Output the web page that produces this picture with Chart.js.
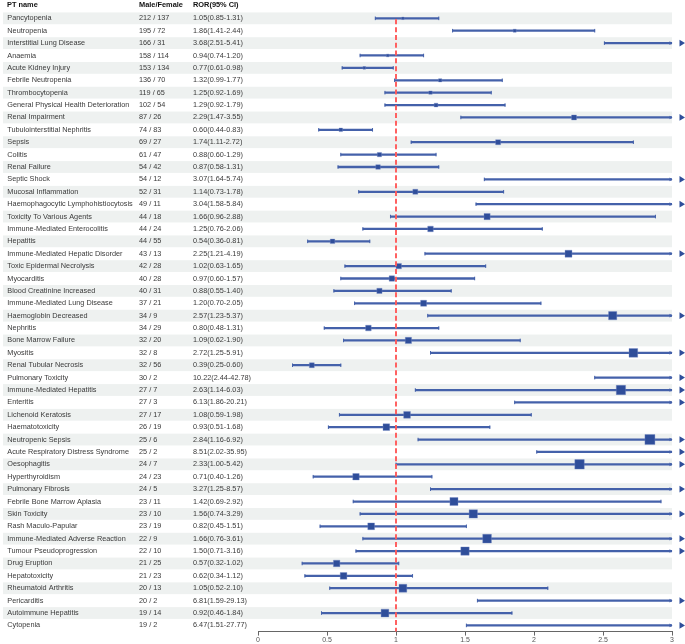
<!DOCTYPE html>
<html>
<head>
<meta charset="utf-8">
<script src="https://cdn.jsdelivr.net/npm/chart.js@4"></script>
<style>
  html, body { margin: 0; padding: 0; background: #fff; }
  #wrap { width: 685px; height: 644px; position: relative; }
</style>
</head>
<body>
<div id="wrap"><canvas id="forestChart"></canvas></div>
<script>
// adverse event rows, top to bottom
const ptNames = [
    "Pancytopenia", "Neutropenia", "Interstitial Lung Disease", "Anaemia", "Acute Kidney Injury",
    "Febrile Neutropenia", "Thrombocytopenia", "General Physical Health Deterioration", "Renal Impairment",
    "Tubulointerstitial Nephritis", "Sepsis", "Colitis", "Renal Failure", "Septic Shock",
    "Mucosal Inflammation", "Haemophagocytic Lymphohistiocytosis", "Toxicity To Various Agents",
    "Immune-Mediated Enterocolitis", "Hepatitis", "Immune-Mediated Hepatic Disorder",
    "Toxic Epidermal Necrolysis", "Myocarditis", "Blood Creatinine Increased", "Immune-Mediated Lung Disease",
    "Haemoglobin Decreased", "Nephritis", "Bone Marrow Failure", "Myositis", "Renal Tubular Necrosis",
    "Pulmonary Toxicity", "Immune-Mediated Hepatitis", "Enteritis", "Lichenoid Keratosis", "Haematotoxicity",
    "Neutropenic Sepsis", "Acute Respiratory Distress Syndrome", "Oesophagitis", "Hyperthyroidism",
    "Pulmonary Fibrosis", "Febrile Bone Marrow Aplasia", "Skin Toxicity", "Rash Maculo-Papular",
    "Immune-Mediated Adverse Reaction", "Tumour Pseudoprogression", "Drug Eruption", "Hepatotoxicity",
    "Rheumatoid Arthritis", "Pericarditis", "Autoimmune Hepatitis", "Cytopenia"
];
const maleCounts = [212, 195, 166, 158, 153, 136, 119, 102, 87, 74, 69, 61, 54, 54, 52, 49, 44, 44, 44, 43,
    42, 40, 40, 37, 34, 34, 32, 32, 32, 30, 27, 27, 27, 26, 25, 25, 24, 24, 24, 23, 23, 23, 22, 22, 21, 21, 20, 20, 19, 19];
const femaleCounts = [137, 72, 31, 114, 134, 70, 65, 54, 26, 83, 27, 47, 42, 12, 31, 11, 18, 24, 55, 13,
    28, 28, 31, 21, 9, 29, 20, 8, 56, 2, 7, 3, 17, 19, 6, 2, 7, 23, 5, 11, 10, 19, 9, 10, 25, 23, 13, 2, 14, 2];
const ror = [1.05, 1.86, 3.68, 0.94, 0.77, 1.32, 1.25, 1.29, 2.29, 0.60, 1.74, 0.88, 0.87, 3.07, 1.14, 3.04,
    1.66, 1.25, 0.54, 2.25, 1.02, 0.97, 0.88, 1.20, 2.57, 0.80, 1.09, 2.72, 0.39, 10.22, 2.63, 6.13, 1.08, 0.93,
    2.84, 8.51, 2.33, 0.71, 3.27, 1.42, 1.56, 0.82, 1.66, 1.50, 0.57, 0.62, 1.05, 6.81, 0.92, 6.47];
const ciLow = [0.85, 1.41, 2.51, 0.74, 0.61, 0.99, 0.92, 0.92, 1.47, 0.44, 1.11, 0.60, 0.58, 1.64, 0.73, 1.58,
    0.96, 0.76, 0.36, 1.21, 0.63, 0.60, 0.55, 0.70, 1.23, 0.48, 0.62, 1.25, 0.25, 2.44, 1.14, 1.86, 0.59, 0.51,
    1.16, 2.02, 1.00, 0.40, 1.25, 0.69, 0.74, 0.45, 0.76, 0.71, 0.32, 0.34, 0.52, 1.59, 0.46, 1.51];
const ciHigh = [1.31, 2.44, 5.41, 1.20, 0.98, 1.77, 1.69, 1.79, 3.55, 0.83, 2.72, 1.29, 1.31, 5.74, 1.78, 5.84,
    2.88, 2.06, 0.81, 4.19, 1.65, 1.57, 1.40, 2.05, 5.37, 1.31, 1.90, 5.91, 0.60, 42.78, 6.03, 20.21, 1.98, 1.68,
    6.92, 35.95, 5.42, 1.26, 8.57, 2.92, 3.29, 1.51, 3.61, 3.16, 1.02, 1.12, 2.10, 29.13, 1.84, 27.77];
const xTicks = [0, 0.5, 1, 1.5, 2, 2.5, 3];

const X_MAX = 3;
const lineBlue = "#4461aa";
const boxBlue = "#2f4e9a";
const fmt = v => v.toFixed(2);
const FONT = "'Liberation Sans', Arial, sans-serif";

// square size follows the width of the interval on log scale
const boxRadius = ciLow.map((lo, i) => 5.6 * Math.log(ciHigh[i] / lo) / Math.SQRT2);

const forestPlugin = {
    id: "forest",
    beforeDatasetsDraw(chart) {
        const { ctx, chartArea, scales: { y } } = chart;
        const half = (y.getPixelForValue(1) - y.getPixelForValue(0)) / 2;
        ctx.save();
        // zebra stripes
        ctx.fillStyle = "#eef1f0";
        ptNames.forEach((n, i) => {
            if (i % 2 === 0) {
                const yc = y.getPixelForValue(i);
                ctx.fillRect(3, yc - half + 0.3, chartArea.right - 3, half * 2 - 0.6);
            }
        });
        ctx.restore();
    },
    afterDatasetsDraw(chart) {
        const { ctx, chartArea, scales: { x, y } } = chart;
        ctx.save();
        // caps and arrows
        ptNames.forEach((n, i) => {
            const yc = y.getPixelForValue(i);
            const xl = x.getPixelForValue(ciLow[i]);
            ctx.strokeStyle = lineBlue;
            ctx.lineWidth = 1;
            ctx.beginPath();
            ctx.moveTo(xl, yc - 1.8);
            ctx.lineTo(xl, yc + 1.8);
            ctx.stroke();
            if (ciHigh[i] <= X_MAX) {
                const xh = x.getPixelForValue(ciHigh[i]);
                ctx.beginPath();
                ctx.moveTo(xh, yc - 1.8);
                ctx.lineTo(xh, yc + 1.8);
                ctx.stroke();
            } else {
                const xe = x.getPixelForValue(X_MAX);
                ctx.fillStyle = lineBlue;
                ctx.beginPath();
                ctx.moveTo(xe + 0.5, yc);
                ctx.lineTo(xe - 2.5, yc - 1.8);
                ctx.lineTo(xe - 2.5, yc + 1.8);
                ctx.closePath();
                ctx.fill();
                ctx.fillStyle = boxBlue;
                ctx.beginPath();
                ctx.moveTo(xe + 13, yc);
                ctx.lineTo(xe + 7.5, yc - 3.4);
                ctx.lineTo(xe + 7.5, yc + 3.4);
                ctx.closePath();
                ctx.fill();
            }
        });
        // reference line at ROR = 1
        const x1 = x.getPixelForValue(1);
        ctx.strokeStyle = "#ff5a5a";
        ctx.lineWidth = 1.9;
        ctx.setLineDash([5, 2.8]);
        ctx.beginPath();
        ctx.moveTo(x1, y.getPixelForValue(0) + 1);
        ctx.lineTo(x1, chartArea.bottom);
        ctx.stroke();
        ctx.restore();
    },
    afterDraw(chart) {
        const { ctx, scales: { y } } = chart;
        ctx.save();
        ctx.textBaseline = "middle";
        ctx.fillStyle = "#111";
        ctx.font = "bold 7.4px " + FONT;
        ctx.fillText("PT name", 7, 4.5);
        ctx.fillText("Male/Female", 139, 4.5);
        ctx.fillText("ROR(95% CI)", 193, 4.5);
        ctx.fillStyle = "#3a3a3a";
        ctx.font = "7.3px " + FONT;
        ptNames.forEach((n, i) => {
            const yc = y.getPixelForValue(i);
            ctx.fillText(n, 7.3, yc);
            ctx.fillText(maleCounts[i] + " / " + femaleCounts[i], 139, yc);
            ctx.fillText(fmt(ror[i]) + "(" + fmt(ciLow[i]) + "-" + fmt(ciHigh[i]) + ")", 193, yc);
        });
        ctx.restore();
    }
};

const ctx = document.getElementById("forestChart").getContext("2d");
new Chart(ctx, {
    type: "bar",
    data: {
        labels: ptNames,
        datasets: [{
            type: "bar",
            indexAxis: "y",
            data: ciLow.map((lo, i) => [lo, Math.min(ciHigh[i], X_MAX)]),
            backgroundColor: lineBlue,
            barThickness: 1.6,
            order: 2
        }, {
            type: "line",
            indexAxis: "y",
            data: ror.map(v => v <= X_MAX ? v : null),
            showLine: false,
            pointStyle: "rect",
            pointRadius: boxRadius,
            pointHoverRadius: boxRadius,
            pointBackgroundColor: boxBlue,
            pointBorderColor: "rgba(120,140,200,0.6)",
            pointBorderWidth: 0.6,
            order: 1
        }]
    },
    options: {
        indexAxis: "y",
        responsive: true,
        maintainAspectRatio: false,
        animation: false,
        layout: { padding: { top: 9.8, left: 258, right: 13, bottom: 0 } },
        plugins: { legend: { display: false }, tooltip: { enabled: false } },
        scales: {
            x: {
                type: "linear",
                min: 0,
                max: X_MAX,
                afterBuildTicks: axis => { axis.ticks = xTicks.map(v => ({ value: v })); },
                ticks: {
                    padding: 0,
                    color: "#555",
                    font: { size: 7, family: FONT },
                    callback: v => String(v)
                },
                grid: { drawOnChartArea: false, drawTicks: true, tickLength: 4, color: "#666" },
                border: { display: true, color: "#666" }
            },
            y: {
                type: "category",
                display: false,
                offset: true
            }
        }
    },
    plugins: [forestPlugin]
});
</script>
</body>
</html>
